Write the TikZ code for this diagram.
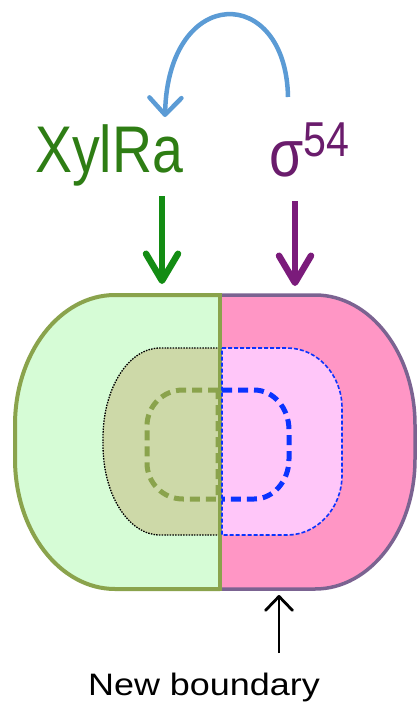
\documentclass[tikz,border=0pt]{standalone}
\usepackage{fontspec}
\usepackage{xcolor}
\usepackage{tikz}
\usetikzlibrary{arrows.meta}
\newfontfamily\lblfont[FakeStretch=0.84]{Liberation Sans}
\newfontfamily\capfont[FakeStretch=1.16]{Liberation Sans}
\definecolor{cellgreen}{HTML}{D6FCD6}
\definecolor{cellpink}{HTML}{FF96C5}
\definecolor{midgreen}{HTML}{CDD9A8}
\definecolor{midpink}{HTML}{FFC6F9}
\definecolor{olive}{HTML}{8AA34C}
\definecolor{plum}{HTML}{7B6391}
\definecolor{dashblue}{HTML}{0A33FF}
\definecolor{loopblue}{HTML}{5B9BD5}
\definecolor{xylgreen}{HTML}{2E7D14}
\definecolor{sigpurple}{HTML}{6A1C6C}
\definecolor{arrgreen}{HTML}{138C13}
\definecolor{arrpurple}{HTML}{7B1B7B}

\begin{document}
\begin{tikzpicture}[x=1pt,y=-1pt,
  lbl/.style={inner sep=0pt,font=\lblfont\fontsize{66}{66}\selectfont},
  arr/.style={line width=6.5pt,-{Straight Barb[round,length=27pt,width=32pt]}},
  thickdash/.style={line width=5pt,dash pattern=on 10pt off 6pt}]
\useasboundingbox (0,0) rectangle (420,709);
% outer cell
\fill[cellgreen] (220,295) -- (115,295) arc[start angle=270,end angle=180,x radius=100,y radius=130]
  -- (15,459) arc[start angle=180,end angle=90,x radius=100,y radius=130] -- (220,589) -- cycle;
\fill[cellpink] (220,295) -- (315,295) arc[start angle=270,end angle=360,x radius=100,y radius=130]
  -- (415,459) arc[start angle=0,end angle=90,x radius=100,y radius=130] -- (220,589) -- cycle;
% middle region
\fill[midgreen] (220,348) -- (160,348) arc[start angle=270,end angle=180,x radius=57,y radius=90]
  -- (103,445) arc[start angle=180,end angle=90,x radius=57,y radius=90] -- (220,535) -- cycle;
\fill[midpink] (222,348) -- (287,348) arc[start angle=270,end angle=360,x radius=55,y radius=60]
  -- (342,475) arc[start angle=0,end angle=90,x radius=55,y radius=60] -- (222,535) -- cycle;
\draw[black,line width=1.3pt,dash pattern=on 1.5pt off 1.2pt] (220,348) -- (160,348)
  arc[start angle=270,end angle=180,x radius=57,y radius=90]
  -- (103,445) arc[start angle=180,end angle=90,x radius=57,y radius=90] -- (220,535);
% outer borders
\draw[olive,line width=4pt] (220,295) -- (115,295) arc[start angle=270,end angle=180,x radius=100,y radius=130]
  -- (15,459) arc[start angle=180,end angle=90,x radius=100,y radius=130] -- (220,589);
\draw[plum,line width=3.5pt] (220,295) -- (315,295) arc[start angle=270,end angle=360,x radius=100,y radius=130]
  -- (415,459) arc[start angle=0,end angle=90,x radius=100,y radius=130] -- (220,589);
\draw[olive,line width=4pt] (220,293) -- (220,591);
% inner region
\draw[olive,thickdash] (218,390) -- (183,390) arc[start angle=270,end angle=180,radius=36]
  -- (147,463) arc[start angle=180,end angle=90,radius=36] -- (218,499) -- cycle;
\draw[dashblue,line width=1.6pt,dash pattern=on 4pt off 2pt] (222,348) -- (287,348)
  arc[start angle=270,end angle=360,x radius=55,y radius=60]
  -- (342,475) arc[start angle=0,end angle=90,x radius=55,y radius=60] -- (222,535) -- cycle;
\draw[dashblue,thickdash] (222,390) -- (254,390) arc[start angle=270,end angle=360,x radius=35,y radius=40]
  -- (289,459) arc[start angle=0,end angle=90,x radius=35,y radius=40] -- (222,499);
% labels
\node[lbl,text=xylgreen,anchor=base] (xyl) at (109,172) {XylRa};
\node[lbl,text=sigpurple,anchor=base west] (sig) at (269,176) {σ\raisebox{20pt}{\fontsize{49}{49}\selectfont 54}};
\node[inner sep=0pt,font=\capfont\fontsize{31}{31}\selectfont,anchor=base] (nb) at (204,695) {New boundary};
\coordinate (gs) at (162,196);
\coordinate (gt) at (162,284);
\coordinate (ps) at (295,201);
\coordinate (pt) at (295,286);
\coordinate (ls) at (288,97);
\coordinate (lt) at (165,117);
\coordinate (bs) at (279,653);
\coordinate (bt) at (279,595);
\draw[arr,arrgreen] (gs) -- (gt);
\draw[arr,arrpurple] (ps) -- (pt);
\draw[loopblue,line width=4.5pt,-{Straight Barb[round,length=17pt,width=32pt]}]
  (ls) .. controls (286,-16) and (168,-16) .. (lt);
\draw[black,line width=2.8pt,-{Straight Barb[round,length=14pt,width=27pt]}] (bs) -- (bt);
\end{tikzpicture}
\end{document}
